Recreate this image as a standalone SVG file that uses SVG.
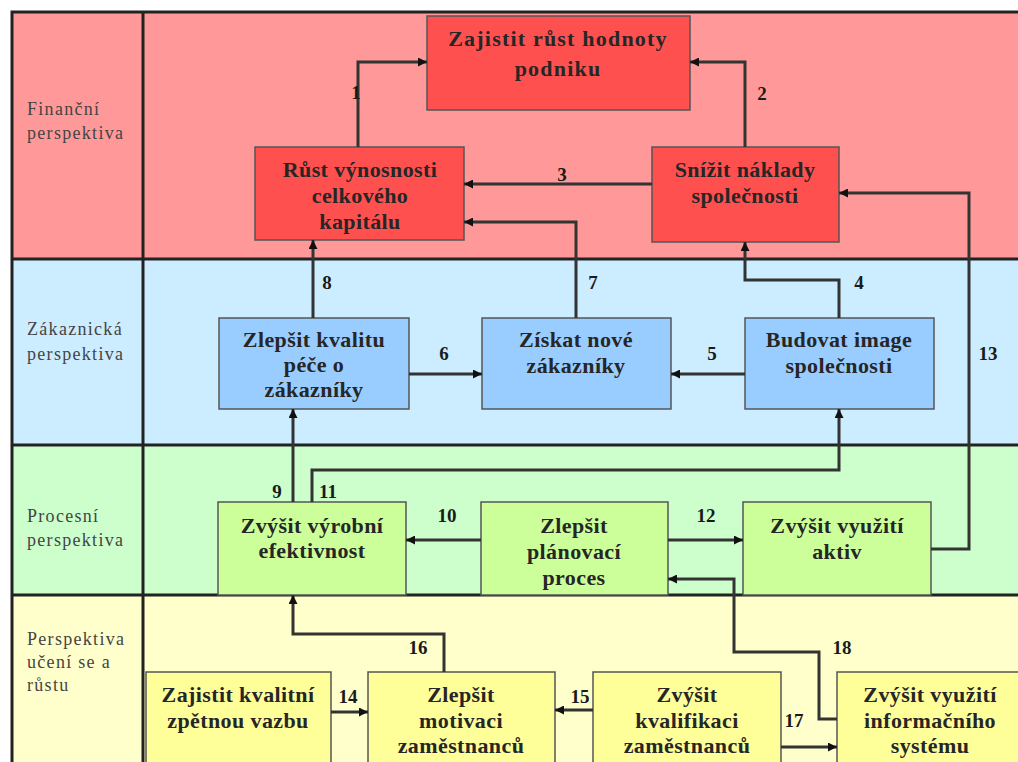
<svg xmlns="http://www.w3.org/2000/svg" width="1018" height="762" viewBox="0 0 1018 762">
<defs>
<marker id="ah" viewBox="0 0 10 10" refX="10" refY="5" markerWidth="11" markerHeight="9" markerUnits="userSpaceOnUse" orient="auto">
<path d="M0,0 L10,5 L0,10 z" fill="#111"/>
</marker>
</defs>
<style>
.band{stroke:none}
.grid{stroke:#222;stroke-width:3;fill:none}
.node rect{stroke:#555;stroke-width:1.5}
.fin rect{fill:#FF5050}
.cus rect{fill:#99CCFF}
.pro rect{fill:#CCFF99}
.lrn rect{fill:#FFFF99}
.nt{font-family:"Liberation Serif","Times New Roman",serif;font-weight:bold;font-size:22px;fill:#262626;text-anchor:middle;letter-spacing:0.4px}
.wide{letter-spacing:1.2px}
.lt{font-family:"Liberation Serif","Times New Roman",serif;font-size:18px;fill:#444;letter-spacing:1.3px}
.num{font-family:"Liberation Serif","Times New Roman",serif;font-weight:bold;font-size:19px;fill:#1a1a1a;text-anchor:middle}
#connectors path{stroke:#333;stroke-width:3;fill:none;marker-end:url(#ah)}
</style>
<rect width="1018" height="762" fill="#fff"/>
<g id="bands">
<rect class="band" x="12" y="12" width="1020" height="247" fill="#FF9999"/>
<rect class="band" x="12" y="259" width="1020" height="186" fill="#CCECFF"/>
<rect class="band" x="12" y="445" width="1020" height="150" fill="#CCFFCC"/>
<rect class="band" x="12" y="595" width="1020" height="180" fill="#FFFFCC"/>
<path class="grid" d="M12,790 V12 H1030 M143,12 V790 M12,259 H1030 M12,445 H1030 M12,595 H1030"/>
</g>
<g id="labels">
<text class="lt" x="27" y="115">Finanční</text>
<text class="lt" x="27" y="139">perspektiva</text>
<text class="lt" x="27" y="335">Zákaznická</text>
<text class="lt" x="27" y="360">perspektiva</text>
<text class="lt" x="27" y="522">Procesní</text>
<text class="lt" x="27" y="546">perspektiva</text>
<text class="lt" x="27" y="645">Perspektiva</text>
<text class="lt" x="27" y="668">učení se a</text>
<text class="lt" x="27" y="691">růstu</text>
</g>
<g id="n1" class="node fin"><rect x="427" y="16" width="263" height="94"/><text class="nt wide" x="558" y="46">Zajistit růst hodnoty</text><text class="nt wide" x="558" y="76">podniku</text></g>
<g id="n2" class="node fin"><rect x="255" y="147" width="209" height="93"/><text class="nt" x="360" y="177">Růst výnosnosti</text><text class="nt" x="360" y="203">celkového</text><text class="nt" x="360" y="229">kapitálu</text></g>
<g id="n3" class="node fin"><rect x="652" y="147" width="187" height="95"/><text class="nt" x="745" y="177">Snížit náklady</text><text class="nt" x="745" y="203">společnosti</text></g>
<g id="n4" class="node cus"><rect x="219" y="318" width="190" height="91"/><text class="nt" x="314" y="347">Zlepšit kvalitu</text><text class="nt" x="314" y="372">péče o</text><text class="nt" x="314" y="397">zákazníky</text></g>
<g id="n5" class="node cus"><rect x="482" y="318" width="189" height="91"/><text class="nt" x="576" y="347">Získat nové</text><text class="nt" x="576" y="373">zákazníky</text></g>
<g id="n6" class="node cus"><rect x="745" y="318" width="189" height="91"/><text class="nt" x="839" y="347">Budovat image</text><text class="nt" x="839" y="373">společnosti</text></g>
<g id="n7" class="node pro"><rect x="218" y="502" width="188" height="93"/><text class="nt" x="312" y="533">Zvýšit výrobní</text><text class="nt" x="312" y="558">efektivnost</text></g>
<g id="n8" class="node pro"><rect x="481" y="502" width="187" height="93"/><text class="nt" x="574" y="533">Zlepšit</text><text class="nt" x="574" y="559">plánovací</text><text class="nt" x="574" y="585">proces</text></g>
<g id="n9" class="node pro"><rect x="743" y="502" width="188" height="93"/><text class="nt" x="837" y="533">Zvýšit využití</text><text class="nt" x="837" y="559">aktiv</text></g>
<g id="n10" class="node lrn"><rect x="146" y="672" width="185" height="110"/><text class="nt" x="238" y="702">Zajistit kvalitní</text><text class="nt" x="238" y="728">zpětnou vazbu</text></g>
<g id="n11" class="node lrn"><rect x="368" y="672" width="187" height="110"/><text class="nt" x="461" y="702">Zlepšit</text><text class="nt" x="461" y="728">motivaci</text><text class="nt" x="461" y="753">zaměstnanců</text></g>
<g id="n12" class="node lrn"><rect x="593" y="672" width="188" height="110"/><text class="nt" x="687" y="702">Zvýšit</text><text class="nt" x="687" y="728">kvalifikaci</text><text class="nt" x="687" y="753">zaměstnanců</text></g>
<g id="n13" class="node lrn"><rect x="837" y="672" width="190" height="110"/><text class="nt" x="930" y="702">Zvýšit využití</text><text class="nt" x="930" y="728">informačního</text><text class="nt" x="930" y="753">systému</text></g>
<g id="connectors">
<path d="M358,147 V62 H427"/>
<path d="M745,147 V62 H690"/>
<path d="M652,184 H464"/>
<path d="M576,318 V222 H464"/>
<path d="M931,549 H969 V193 H839"/>
<path d="M313,318 V240"/>
<path d="M839,318 V280 H745 V242"/>
<path d="M409,374 H482"/>
<path d="M745,374 H671"/>
<path d="M293,502 V409"/>
<path d="M312,502 V470 H839 V409"/>
<path d="M481,540 H406"/>
<path d="M668,540 H743"/>
<path d="M444,672 V634 H293 V595"/>
<path d="M331,712 H368"/>
<path d="M593,710 H555"/>
<path d="M781,747 H837"/>
<path d="M837,719 H819 V652 H734 V579 H668"/>
</g>
<g id="numbers">
<text class="num" x="356" y="99">1</text>
<text class="num" x="762" y="100">2</text>
<text class="num" x="562" y="181">3</text>
<text class="num" x="859" y="289">4</text>
<text class="num" x="712" y="360">5</text>
<text class="num" x="444" y="360">6</text>
<text class="num" x="593" y="289">7</text>
<text class="num" x="327" y="289">8</text>
<text class="num" x="277" y="498">9</text>
<text class="num" x="447" y="522">10</text>
<text class="num" x="328" y="498">11</text>
<text class="num" x="706" y="522">12</text>
<text class="num" x="988" y="360">13</text>
<text class="num" x="348" y="703">14</text>
<text class="num" x="580" y="703">15</text>
<text class="num" x="418" y="654">16</text>
<text class="num" x="794" y="727">17</text>
<text class="num" x="842" y="654">18</text>
</g>
</svg>
